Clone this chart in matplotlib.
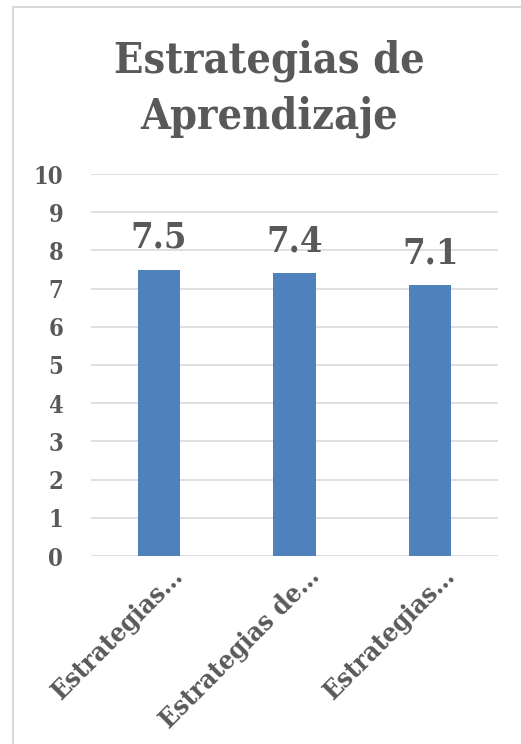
import matplotlib
matplotlib.use("Agg")
import matplotlib.pyplot as plt
from matplotlib.lines import Line2D
from matplotlib.transforms import ScaledTranslation

categories = ["Estrategias…", "Estrategias de…", "Estrategias…"]
values = [7.5, 7.4, 7.1]
yticks = [0, 1, 2, 3, 4, 5, 6, 7, 8, 9, 10]
title_lines = ["Estrategias de", "Aprendizaje"]

W, H = 521, 744
fig = plt.figure(figsize=(W / 100, H / 100), dpi=100)
plt.rcParams['font.family'] = ['DejaVu Serif']
txt = '#595959'
FS = 'condensed'

# outer chart border (top and left edges visible)
bc = '#D9D9D9'
fig.add_artist(Line2D([13 / W, 13 / W], [0, 1 - 7 / H], transform=fig.transFigure, color=bc, lw=1.5))
fig.add_artist(Line2D([13 / W, 520 / W], [1 - 7 / H, 1 - 7 / H], transform=fig.transFigure, color=bc, lw=1.5))

ax = fig.add_axes([91 / W, 1 - 556 / H, (498 - 91) / W, (556 - 174) / H])
x = range(len(values))
bars = ax.bar(x, values, width=0.31, color='#4F81BD', zorder=3)
ax.set_ylim(0, 10)
ax.set_xlim(-0.5, len(values) - 0.5)
ax.set_yticks(yticks)
ax.set_yticklabels([str(t) for t in yticks], fontsize=17, fontweight='bold',
                   color=txt, fontstretch=FS)
ax.yaxis.grid(True, color='#D9D9D9', linewidth=1.2, zorder=0)
ax.tick_params(axis='y', length=0, pad=20)
ax.tick_params(axis='x', length=0, pad=6)
ax.set_xticks(list(x))
ax.set_xticklabels(categories, rotation=45, ha='right', rotation_mode='anchor',
                   fontsize=19, fontweight='bold', color=txt, fontstretch=FS)
off = ScaledTranslation(12 / 100, 1 / 100, fig.dpi_scale_trans)
for lab in ax.get_xticklabels():
    lab.set_transform(lab.get_transform() + off)
for s in ax.spines.values():
    s.set_visible(False)

for b, v in zip(bars, values):
    ax.annotate(f"{v:.1f}", (b.get_x() + b.get_width() / 2, v), xytext=(0, 15.5),
                textcoords='offset points', ha='center', va='baseline',
                fontsize=26, fontweight='bold', color=txt, fontstretch=FS)

fig.text(269.5 / W, 1 - 73 / H, title_lines[0], ha='center', va='baseline', fontsize=31,
         fontweight='bold', color=txt, fontstretch=FS)
fig.text(269.5 / W, 1 - 128 / H, title_lines[1], ha='center', va='baseline', fontsize=31,
         fontweight='bold', color=txt, fontstretch=FS)

fig.savefig('out.png', dpi=100)
